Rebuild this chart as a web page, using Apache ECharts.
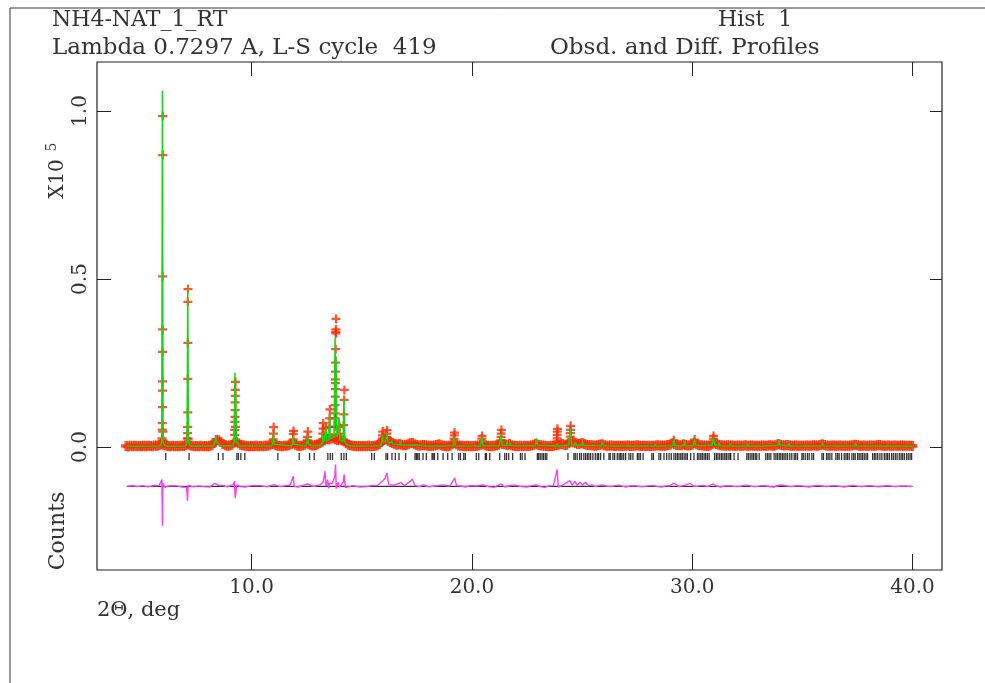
<!DOCTYPE html>
<html>
<head>
<meta charset="utf-8">
<script src="https://cdn.jsdelivr.net/npm/echarts/dist/echarts.min.js"></script>
<style>
  html, body { margin: 0; padding: 0; background: #fff; }
  #container { width: 985px; height: 683px; }
</style>
</head>
<body>
<div id="container"></div>
<script>
// axis ticks
var xTicks = [10, 20, 30, 40];
var yTicks = [0, 50000, 100000];

// observed background scan, counts, one value every 0.1 deg from 4.3 deg
var obsStart = 4.3, obsStep = 0.1;
var obsBg = [
  300, 150, 350, 250, 400, 200, 300,
  250, 350, 200, 400, 300, 250, 450, 350, 600, 900,
  700, 450, 300, 250, 350, 200, 300, 250, 350, 300,
  600, 800, 500, 350, 250, 300, 200, 350, 250, 300,
  250, 350, 500, 1200, 2100, 2000, 1500, 900, 500, 400,
  450, 700, 1300, 1600, 1100, 700, 500, 350, 300, 250,
  300, 200, 350, 250, 300, 200, 350, 400, 500, 800,
  1000, 600, 350, 300, 250, 350, 400, 600, 900, 1100,
  700, 400, 300, 450, 700, 1100, 800, 500, 450, 600,
  800, 1200, 1600, 2000, 2400, 2300, 2500, 2600, 2300, 2100,
  2200, 2000, 1700, 1100, 700, 500, 350, 300, 250, 300,
  250, 300, 200, 350, 250, 300, 350, 500, 900, 1600,
  2100, 2300, 1900, 1500, 1200, 900, 700, 900, 700, 500,
  600, 800, 1100, 1200, 800, 600, 400, 500, 600, 500,
  400, 350, 300, 450, 600, 800, 500, 350, 300, 250,
  400, 800, 1200, 800, 450, 350, 300, 250, 350, 300,
  250, 300, 350, 450, 700, 900, 550, 350, 300, 250,
  350, 450, 700, 1100, 900, 800, 600, 900, 500, 350,
  300, 250, 350, 250, 400, 300, 350, 450, 700, 1000,
  700, 500, 450, 350, 300, 250, 300, 350, 500, 600,
  800, 900, 700, 600, 1200, 1700, 1400, 1200, 900, 1000,
  1200, 900, 700, 600, 500, 450, 400, 500, 650, 800,
  550, 400, 350, 450, 350, 300, 400, 350, 300, 400,
  350, 450, 300, 400, 350, 500, 400, 300, 350, 300,
  350, 300, 400, 350, 500, 450, 400, 350, 450, 600,
  700, 1100, 800, 600, 550, 500, 800, 600, 450, 500,
  650, 1200, 800, 550, 500, 450, 400, 350, 450, 800,
  1300, 900, 650, 500, 450, 400, 500, 350, 450, 400,
  350, 450, 400, 350, 500, 400, 350, 450, 400, 350,
  400, 350, 450, 400, 350, 500, 450, 400, 550, 900,
  700, 500, 450, 600, 500, 400, 350, 450, 400, 350,
  400, 350, 450, 400, 350, 500, 450, 400, 600, 800,
  600, 450, 400, 350, 450, 400, 350, 450, 400, 350,
  400, 350, 450, 500, 700, 500, 400, 350, 450, 400,
  350, 450, 400, 350, 500, 600, 450, 400, 350, 450,
  400, 350, 450, 400, 350, 450, 400, 350, 400, 350,
  300
];

// observed points up the Bragg peaks [2theta, counts]
var obsPeaks = [
  [5.93, 2600], [5.94, 5200], [5.945, 7100], [5.95, 11900], [5.95, 16800], [5.955, 19500],
  [5.955, 28300], [5.96, 35000], [5.96, 50800], [5.965, 86900], [5.965, 98500], [5.97, 4600], [5.98, 2000],
  [7.08, 2600], [7.09, 4100], [7.095, 6000], [7.10, 10300], [7.10, 20300], [7.105, 31000],
  [7.105, 43200], [7.11, 47000], [7.12, 2500],
  [9.23, 3600], [9.235, 5100], [9.24, 7500], [9.245, 9000], [9.25, 11000], [9.25, 13300],
  [9.255, 15200], [9.26, 17000], [9.265, 19400], [9.27, 6000],
  [10.98, 2300], [10.99, 4000], [11.00, 5900],
  [11.88, 2300], [11.89, 3900], [11.90, 4800],
  [12.53, 2000], [12.54, 3000], [12.55, 4600],
  [13.23, 4000], [13.24, 5500], [13.25, 7100],
  [13.36, 3500], [13.37, 5700],
  [13.53, 6000], [13.54, 8500], [13.55, 11200],
  [13.78, 6000], [13.785, 8500], [13.79, 10000], [13.79, 12500], [13.795, 15000], [13.80, 17200],
  [13.80, 19000], [13.805, 20100], [13.81, 22400], [13.81, 25100], [13.815, 29100], [13.82, 33800],
  [13.82, 34300], [13.825, 35000], [13.83, 38100],
  [13.98, 4000], [13.99, 6000],
  [14.18, 6500], [14.19, 9700], [14.20, 14000], [14.21, 17000],
  [15.93, 2500], [15.94, 3500], [15.95, 4600],
  [16.13, 3000], [16.14, 4000], [16.15, 5000],
  [19.19, 2500], [19.20, 3500], [19.21, 4300],
  [20.45, 2500], [20.46, 3300],
  [21.31, 2000], [21.32, 3000], [21.33, 4000], [21.34, 5100],
  [23.86, 1600], [23.865, 2600], [23.87, 3600], [23.875, 4600], [23.88, 5400],
  [24.46, 1900], [24.465, 3100], [24.47, 4100], [24.475, 5100], [24.48, 6300],
  [29.17, 2000], [30.11, 2200], [30.96, 2500], [30.97, 3300]
];

// calculated profile [2theta, counts]
var calc = [
  [4.33, 200], [5.85, 300], [5.92, 1500], [5.95, 106000], [5.98, 1500], [6.05, 500], [6.20, 200],
  [7.00, 300], [7.07, 1500], [7.10, 47700], [7.13, 1500], [7.25, 300],
  [8.25, 300], [8.33, 1200], [8.37, 3000], [8.43, 1500], [8.50, 1000], [8.60, 400],
  [9.15, 400], [9.21, 1500], [9.24, 22200], [9.26, 9000], [9.28, 16000], [9.31, 1500], [9.45, 400],
  [10.90, 300], [10.96, 1000], [10.99, 4200], [11.02, 800], [11.10, 300],
  [11.80, 300], [11.86, 1000], [11.89, 3500], [11.92, 800], [12.00, 300],
  [12.45, 300], [12.51, 1000], [12.54, 3600], [12.57, 900], [12.70, 400],
  [13.10, 500], [13.21, 1200], [13.24, 3600], [13.27, 1400], [13.34, 1800], [13.37, 5700], [13.40, 1800],
  [13.50, 2200], [13.54, 10000], [13.57, 2500], [13.74, 3000], [13.79, 32500], [13.81, 14000],
  [13.83, 27000], [13.87, 3000], [13.95, 2500], [13.98, 8600], [14.01, 2000], [14.15, 1800],
  [14.19, 14500], [14.23, 1500], [14.35, 500], [14.60, 300],
  [15.85, 400], [15.91, 1500], [15.94, 3600], [15.98, 1500], [16.08, 1600], [16.14, 4300], [16.19, 1500],
  [16.30, 1200], [16.36, 1800], [16.42, 800], [16.72, 700], [16.75, 1500], [16.78, 600],
  [17.17, 500], [17.20, 800], [17.23, 400], [17.50, 600], [17.55, 300],
  [18.00, 300], [18.03, 700], [18.06, 300], [18.55, 300], [18.57, 600], [18.60, 300],
  [19.15, 400], [19.20, 3000], [19.25, 400],
  [20.40, 300], [20.46, 3100], [20.50, 400],
  [21.25, 400], [21.32, 3900], [21.37, 600], [21.57, 500], [21.60, 1500], [21.63, 500],
  [21.73, 500], [21.75, 1100], [21.78, 400],
  [22.88, 400], [22.93, 2600], [22.98, 500],
  [23.83, 300], [23.87, 1100], [23.91, 300],
  [24.40, 600], [24.47, 5500], [24.52, 800], [24.67, 700], [24.70, 1500], [24.73, 600],
  [25.00, 600], [25.03, 1600], [25.06, 500], [25.88, 400], [25.92, 1400], [25.96, 400],
  [26.50, 300], [26.55, 700], [26.60, 300], [27.25, 300], [27.30, 700], [27.35, 300],
  [28.28, 300], [28.32, 900], [28.36, 300],
  [29.12, 400], [29.17, 2300], [29.22, 400], [29.62, 400], [29.66, 1400], [29.70, 400],
  [30.06, 400], [30.11, 2600], [30.16, 500], [30.50, 400], [30.53, 900], [30.56, 400],
  [30.90, 600], [30.96, 2900], [31.02, 700], [31.20, 500], [31.23, 1300], [31.26, 400],
  [31.70, 300], [31.74, 900], [31.78, 300], [32.48, 300], [32.52, 900], [32.56, 300],
  [33.20, 300], [33.24, 800], [33.28, 300],
  [33.90, 500], [33.94, 2000], [33.98, 600], [34.36, 400], [34.40, 1100], [34.44, 400],
  [35.05, 300], [35.08, 700], [35.11, 300], [35.88, 400], [35.92, 1300], [35.96, 400],
  [36.60, 300], [36.63, 700], [36.66, 300], [37.38, 400], [37.42, 1100], [37.46, 400],
  [38.45, 300], [38.48, 700], [38.51, 300], [39.20, 300], [39.23, 600], [39.26, 300], [40.05, 200]
];

// difference curve obs-calc [2theta, counts], drawn shifted down to diffZero
var diffZero = -11700;
var diff = [
  [4.33, 0], [4.6, 250], [4.8, -100], [5.05, 200], [5.3, -150], [5.55, 250], [5.8, 200], [5.92, 2000],
  [5.94, -5000], [5.95, -11700], [5.97, 1000], [6.05, -300], [6.3, 200], [6.6, 150], [6.85, -200],
  [7.05, -300], [7.09, -4300], [7.12, 300], [7.35, -150], [7.6, 150], [7.85, -100], [8.1, -200],
  [8.33, 900], [8.40, 1400], [8.50, 300], [8.7, 200], [8.9, -150], [9.18, 600], [9.22, 1500], [9.25, -3500],
  [9.28, -2400], [9.32, 400], [9.5, -100], [9.7, -200], [10.0, 200], [10.4, 200], [10.7, -150],
  [10.99, 500], [11.3, -100], [11.55, 200], [11.75, 400], [11.89, 3000], [11.93, 0], [12.1, -200],
  [12.3, 200], [12.54, 700], [12.8, 0], [13.10, 400], [13.24, 1200],
  [13.33, 4500], [13.37, 0], [13.45, 2000], [13.50, -600], [13.54, 1000], [13.65, 800], [13.78, 3000],
  [13.81, 6500], [13.84, -700], [13.92, 1200], [14.00, -200], [14.15, 1200], [14.20, 3500], [14.25, -400],
  [14.6, 200], [14.9, -200], [15.2, -100], [15.45, 250], [15.7, 200], [15.93, 1500], [16.06, 2300],
  [16.14, 4000], [16.22, 500], [16.5, 400], [16.78, 1100], [16.95, 200], [17.20, 1500], [17.30, 2200],
  [17.40, 300], [17.6, -100], [17.8, 400], [18.05, -150], [18.3, 100], [18.55, 300], [18.8, 300],
  [19.0, 100], [19.22, 2500], [19.3, 200], [19.5, 100], [19.7, -200], [19.95, 250], [20.2, 100],
  [20.5, 400], [20.75, -100], [21.0, -300], [21.32, 700], [21.5, -200], [21.75, 250], [22.0, 300],
  [22.25, -100], [22.5, -200], [22.7, 200], [22.9, 400], [23.1, -100], [23.3, -300], [23.5, 150],
  [23.7, 200], [23.87, 5000], [23.92, -200], [24.1, 300], [24.45, 1700], [24.55, 300],
  [24.68, 1500], [24.78, 300], [24.92, 1200], [25.02, 300], [25.15, 1200], [25.3, 200], [25.45, 400],
  [25.6, -100], [25.75, 200], [25.9, 400], [26.1, 100], [26.3, -100], [26.5, 200], [26.7, 300],
  [26.85, 0], [27.0, -200], [27.2, 150], [27.4, 200], [27.6, -50], [27.8, -100], [28.0, 150],
  [28.2, 300], [28.4, 0], [28.6, -200], [28.8, 150], [29.0, 200], [29.17, 1000], [29.4, -100],
  [29.65, 300], [29.9, 900], [30.05, 100], [30.2, 0], [30.35, 200], [30.5, 300], [30.7, -100],
  [30.96, 700], [31.1, 100], [31.3, -200], [31.5, 150], [31.7, 200], [31.9, 0], [32.1, -100],
  [32.3, 200], [32.5, 300], [32.7, 0], [32.9, -100], [33.1, 150], [33.3, 200], [33.5, -50],
  [33.7, -200], [33.9, 250], [34.1, 400], [34.3, 100], [34.5, -100], [34.7, 150], [34.9, 200],
  [35.1, 0], [35.3, -200], [35.5, 100], [35.7, 300], [35.9, 100], [36.1, -100], [36.3, 150],
  [36.5, 200], [36.7, 0], [36.9, -200], [37.1, 100], [37.3, 300], [37.5, 50], [37.7, -100],
  [37.9, 100], [38.1, 200], [38.3, 0], [38.5, -150], [38.7, 100], [38.9, 200], [39.1, 0],
  [39.3, -100], [39.5, 100], [39.7, 150], [39.85, -50], [40.0, 0]
];

// reflection positions, 2theta
var reflTicks = [
  6.10, 7.16, 8.49, 8.70, 9.33, 9.40, 9.51, 9.69, 11.19, 12.16, 12.63, 12.84, 13.46, 13.57, 13.67,
  14.07, 14.19, 14.30, 15.45, 15.57, 16.10, 16.17, 16.37, 16.52, 16.69, 16.99, 17.42, 17.48, 17.54,
  17.61, 17.78, 17.93, 18.19, 18.24, 18.30, 18.45, 18.69, 18.90, 19.10, 19.40, 19.48, 19.63, 19.70,
  20.20, 20.31, 20.61, 20.66, 20.81, 21.26, 21.49, 21.57, 21.67, 21.85, 22.20, 22.28, 22.41,
  22.97, 23.03, 23.10, 23.18, 23.25, 23.33, 23.40, 24.36, 24.63, 24.69, 24.78, 24.89, 24.97,
  25.08, 25.16, 25.24, 25.31, 25.39, 25.49, 25.60, 25.69, 25.75, 25.84, 25.99, 26.22, 26.28,
  26.40, 26.48, 26.60, 26.68, 26.75, 26.81, 26.89, 26.98, 27.13, 27.21, 27.31, 27.51, 27.58,
  27.65, 27.77, 28.17, 28.24, 28.49, 28.57, 28.72, 28.84, 28.95, 29.05, 29.17, 29.25, 29.33,
  29.40, 29.48, 29.55, 29.63, 29.71, 29.78, 29.93, 30.08, 30.24, 30.31, 30.39, 30.46, 30.54,
  30.61, 30.69, 30.77, 31.02, 31.10, 31.17, 31.25, 31.33, 31.40, 31.48, 31.55, 31.63, 31.71,
  31.75, 31.90, 32.08, 32.48, 32.55, 32.63, 32.71, 32.78, 32.86, 32.93, 33.04, 33.34, 33.42,
  33.49, 33.57, 33.72, 33.80, 33.87, 33.95, 34.02, 34.10, 34.17, 34.25, 34.33, 34.43, 34.52,
  34.63, 34.70, 34.78, 34.98, 35.04, 35.13, 35.23, 35.31, 35.43, 35.51, 35.89, 35.96, 36.10,
  36.17, 36.25, 36.34, 36.52, 36.60, 36.67, 36.78, 36.90, 36.98, 37.05, 37.13, 37.25, 37.33,
  37.40, 37.51, 37.58, 37.66, 37.73, 37.81, 37.89, 37.96, 38.19, 38.27, 38.34, 38.42, 38.52,
  38.61, 38.72, 38.80, 38.87, 38.95, 39.05, 39.13, 39.22, 39.30, 39.40, 39.48, 39.55, 39.63,
  39.73, 39.81, 39.89, 39.96
];
var tickLevel = -2830;

var FONT = '"DejaVu Serif", "Liberation Serif", serif';
var TXT = '#333';
var CROSS = 'path://M3,0H5V3H8V5H5V8H3V5H0V3H3Z';
var CROSS_BOLD = 'path://M3,0H6V3H9V6H6V9H3V6H0V3H3Z';

var obsData = [];
for (var i = 0; i < obsBg.length; i++) {
    obsData.push([+(obsStart + i * obsStep).toFixed(2), obsBg[i]]);
}

var diffData = diff.map(function (d) { return [d[0], diffZero + d[1]]; });
var tickData = reflTicks.map(function (t) { return [t, tickLevel]; });

var dom = document.getElementById('container');
var myChart = echarts.init(dom, null, { renderer: 'canvas' });

var option = {
    animation: false,
    backgroundColor: '#fff',
    grid: {
        left: 97, right: 43, top: 62, bottom: 113,
        show: true, borderColor: '#222', borderWidth: 1.2
    },
    xAxis: [
        {
            type: 'value', min: 2.98, max: 41.34, position: 'bottom',
            axisLine: { show: false, onZero: false }, splitLine: { show: false },
            axisTick: { inside: true, length: 16, customValues: xTicks, lineStyle: { color: '#222' } },
            axisLabel: {
                customValues: xTicks, margin: 8,
                formatter: function (v) { return v.toFixed(1); },
                fontFamily: FONT, fontSize: 20, color: TXT
            }
        },
        {
            type: 'value', min: 2.98, max: 41.34, position: 'top',
            axisLine: { show: false, onZero: false }, splitLine: { show: false },
            axisTick: { inside: true, length: 14, customValues: xTicks, lineStyle: { color: '#222' } },
            axisLabel: { show: false }
        }
    ],
    yAxis: [
        {
            type: 'value', min: -36600, max: 114580, position: 'left',
            axisLine: { show: false, onZero: false }, splitLine: { show: false },
            axisTick: { inside: true, length: 14, customValues: yTicks, lineStyle: { color: '#222' } },
            axisLabel: {
                customValues: yTicks, rotate: 90, margin: 6,
                formatter: function (v) { return (v / 100000).toFixed(1); },
                fontFamily: FONT, fontSize: 20, color: TXT
            }
        },
        {
            type: 'value', min: -36600, max: 114580, position: 'right',
            axisLine: { show: false, onZero: false }, splitLine: { show: false },
            axisTick: { inside: true, length: 12, customValues: yTicks, lineStyle: { color: '#222' } },
            axisLabel: { show: false }
        }
    ],
    series: [
        {
            name: 'Obsd', type: 'scatter', data: obsData,
            symbol: CROSS_BOLD, symbolSize: 10,
            itemStyle: { color: '#ff2a00' }, z: 1
        },
        {
            name: 'Obsd', type: 'scatter', data: obsPeaks,
            symbol: CROSS, symbolSize: 9,
            itemStyle: { color: '#ff2a00' }, z: 1
        },
        {
            name: 'Calc', type: 'line', data: calc, showSymbol: false,
            lineStyle: { color: '#14d614', width: 1.5 }, z: 2
        },
        {
            name: 'Refl', type: 'scatter', data: tickData,
            symbol: 'rect', symbolSize: [1.3, 7],
            itemStyle: { color: '#000' }, z: 3
        },
        {
            name: 'Zero', type: 'line', data: [[4.33, diffZero], [40.0, diffZero]], showSymbol: false,
            lineStyle: { color: '#000', width: 1 }, z: 3
        },
        {
            name: 'Diff', type: 'line', data: diffData, showSymbol: false,
            lineStyle: { color: '#ff3cff', width: 1.4 }, z: 4
        }
    ],
    graphic: [
        { type: 'line', shape: { x1: 10, y1: 8, x2: 985, y2: 8 }, style: { stroke: '#333', lineWidth: 1 } },
        { type: 'line', shape: { x1: 10, y1: 8, x2: 10, y2: 683 }, style: { stroke: '#333', lineWidth: 1 } },
        { type: 'text', x: 52, y: 9, style: { text: 'NH4-NAT_1_RT', font: '22px ' + FONT, fill: TXT } },
        { type: 'text', x: 718, y: 9, style: { text: 'Hist  1', font: '22px ' + FONT, fill: TXT } },
        { type: 'text', x: 52, y: 37, style: { text: 'Lambda 0.7297 A, L-S cycle  419', font: '23px ' + FONT, fill: TXT } },
        { type: 'text', x: 550, y: 37, style: { text: 'Obsd. and Diff. Profiles', font: '23px ' + FONT, fill: TXT } },
        { type: 'text', x: 97, y: 600, style: { text: '2\u0398, deg', font: '21px ' + FONT, fill: TXT } },
        {
            type: 'text', x: 58, y: 179, rotation: Math.PI / 2,
            style: { text: 'X10', font: '20px ' + FONT, fill: TXT, align: 'center', verticalAlign: 'middle' }
        },
        {
            type: 'text', x: 52, y: 147, rotation: Math.PI / 2,
            style: { text: '5', font: '14px ' + FONT, fill: TXT, align: 'center', verticalAlign: 'middle' }
        },
        {
            type: 'text', x: 58, y: 531, rotation: Math.PI / 2,
            style: { text: 'Counts', font: '22px ' + FONT, fill: TXT, align: 'center', verticalAlign: 'middle' }
        }
    ]
};

myChart.setOption(option);
window.addEventListener('resize', myChart.resize);
</script>
</body>
</html>
